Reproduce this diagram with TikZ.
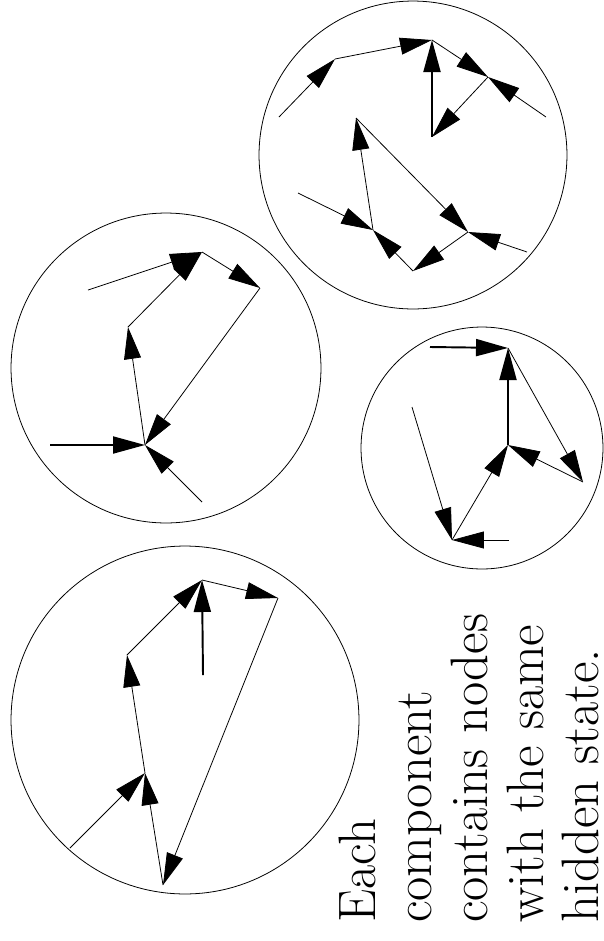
\documentclass[tikz,border=0pt]{standalone}
\usepackage{amsmath}
\usetikzlibrary{arrows.meta}

\begin{document}
\begin{tikzpicture}[x=0.02cm, y=-0.02cm,
    edge/.style={line width=0.45pt, -{Triangle[length=0.64cm, width=0.34cm]}},
    heavy/.style={edge, line width=1.1pt},
    comp/.style={line width=0.45pt},
    caption/.style={rotate=90, anchor=base west, inner sep=0pt, font=\fontsize{30}{32}\selectfont}]
    \useasboundingbox (0,0) rectangle (603,941);

    % components
    \draw[comp] (185,720) circle[radius=3.48cm];
    \draw[comp] (166,368) circle[radius=3.10cm];
    \draw[comp] (413,155) circle[radius=3.08cm];
    \draw[comp] (482,448) circle[radius=2.42cm];

    % first component
    \coordinate (A1) at (202,580);
    \coordinate (B1) at (278,598);
    \coordinate (C1) at (127,655);
    \coordinate (D1) at (203,675);
    \coordinate (E1) at (145,773);
    \coordinate (F1) at (163,885);
    \coordinate (G1) at (70,848);
    \draw[edge] (G1) -- (E1);
    \draw[edge] (F1) -- (E1);
    \draw[edge] (E1) -- (C1);
    \draw[edge] (C1) -- (A1);
    \draw[heavy] (D1) -- (A1);
    \draw[edge] (A1) -- (B1);
    \draw[edge] (B1) -- (F1);

    % second component
    \coordinate (H2) at (202,252);
    \coordinate (I2) at (260,288);
    \coordinate (J2) at (128,327);
    \coordinate (K2) at (145,445);
    \coordinate (L2) at (88,290);
    \coordinate (M2) at (50,445);
    \coordinate (N2) at (202,502);
    \draw[edge] (L2) -- (H2);
    \draw[edge] (J2) -- (H2);
    \draw[edge] (H2) -- (I2);
    \draw[edge] (I2) -- (K2);
    \draw[edge] (K2) -- (J2);
    \draw[heavy] (M2) -- (K2);
    \draw[edge] (N2) -- (K2);

    % third component
    \coordinate (P3) at (432,40);
    \coordinate (Q3) at (335,59);
    \coordinate (R3) at (279,117);
    \coordinate (S3) at (488,77);
    \coordinate (T3) at (546,117);
    \coordinate (U3) at (432,137);
    \coordinate (V3) at (356,118);
    \coordinate (W3) at (373,230);
    \coordinate (X3) at (298,193);
    \coordinate (Y3) at (413,271);
    \coordinate (Z3) at (468,232);
    \coordinate (O3) at (527,252);
    \draw[edge] (R3) -- (Q3);
    \draw[edge] (Q3) -- (P3);
    \draw[heavy] (U3) -- (P3);
    \draw[edge] (P3) -- (S3);
    \draw[edge] (T3) -- (S3);
    \draw[edge] (S3) -- (U3);
    \draw[edge] (X3) -- (W3);
    \draw[edge] (W3) -- (V3);
    \draw[edge] (V3) -- (Z3);
    \draw[edge] (Z3) -- (Y3);
    \draw[edge] (Y3) -- (W3);
    \draw[edge] (O3) -- (Z3);

    % fourth component
    \coordinate (a4) at (508,348);
    \coordinate (b4) at (430,347);
    \coordinate (c4) at (508,445);
    \coordinate (d4) at (583,482);
    \coordinate (e4) at (452,540);
    \coordinate (f4) at (412,407);
    \coordinate (g4) at (509,540);
    \draw[heavy] (b4) -- (a4);
    \draw[heavy] (c4) -- (a4);
    \draw[edge] (a4) -- (d4);
    \draw[edge] (d4) -- (c4);
    \draw[edge] (e4) -- (c4);
    \draw[edge] (f4) -- (e4);
    \draw[edge] (g4) -- (e4);

    % caption, one node per line
    \node[caption] (each) at (375,923) {Each};
    \node[caption] (component) at (431,923) {component};
    \node[caption] (contains) at (487,923) {contains nodes};
    \node[caption] (with) at (543,923) {with the same};
    \node[caption] (hidden) at (598,923) {hidden state.};
  \end{tikzpicture}
\end{document}
